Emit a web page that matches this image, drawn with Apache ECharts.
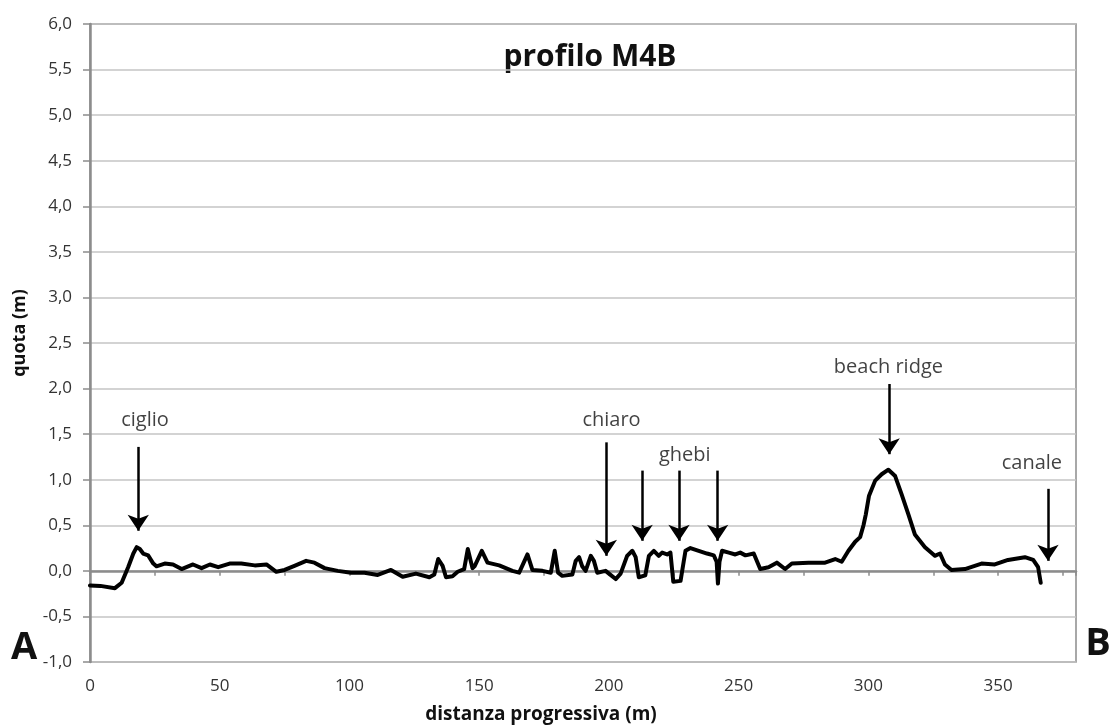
<!DOCTYPE html>
<html>
<head>
<meta charset="utf-8">
<script src="https://cdn.jsdelivr.net/npm/echarts@6/dist/echarts.min.js"></script>
<style>html,body{margin:0;padding:0;background:#fff;}#c{width:1110px;height:726px;}</style>
</head>
<body>
<div id="c"></div>
<script>
// Profile: distance (m) and elevation (m)
var distanza = [0,4,9.6,12.2,14.7,16.7,18,19.2,20.5,22.4,24.4,25.6,28.8,32,35.3,39.7,43,46.2,49.4,53.8,58.3,63.5,68,71.8,75,78.8,83.3,86.5,90.4,95.5,100.6,105.8,110.9,116,120.5,125.6,130.8,132.7,134.2,135.9,137.2,139.7,141.7,144.2,145.6,147.4,148.2,151,153.2,157.7,162.8,165.4,168.6,170.5,174.4,177.6,179.1,180.4,182,185.9,187.2,188.5,189.7,191,193,194.2,195.5,198.7,200,202.6,204.5,207,209,210.3,211.5,214,215.4,217.3,219.2,220.5,222.4,223.7,224.8,227.6,228.8,229.5,231.4,234.6,237.8,240.4,241.5,242,242.6,243.6,246.2,248.7,250.6,252.6,255.8,258.3,261.5,264.7,267.9,270.5,276.9,283.3,287.2,289.7,292.3,294.9,296.8,298.1,299,300.2,302.6,305.1,307.7,310.3,312.8,315.4,317.9,321.8,325.6,327.6,329.5,332,337.2,343.6,348.7,353.8,360.3,363.5,365.4,366.4];
var quota = [-0.16,-0.165,-0.19,-0.13,0.04,0.19,0.26,0.24,0.19,0.17,0.08,0.05,0.08,0.07,0.02,0.07,0.03,0.07,0.04,0.08,0.08,0.06,0.07,-0.01,0.01,0.055,0.11,0.09,0.03,0.0,-0.02,-0.02,-0.045,0.01,-0.065,-0.03,-0.07,-0.04,0.13,0.055,-0.07,-0.06,-0.01,0.02,0.24,0.03,0.05,0.22,0.09,0.06,0.0,-0.02,0.18,0.01,0.0,-0.02,0.22,-0.02,-0.055,-0.04,0.11,0.15,0.05,0.0,0.165,0.11,-0.02,0.0,-0.03,-0.09,-0.03,0.165,0.22,0.15,-0.07,-0.05,0.165,0.22,0.165,0.2,0.18,0.2,-0.12,-0.11,0.1,0.22,0.25,0.22,0.19,0.17,0.1,-0.14,0.1,0.22,0.2,0.18,0.2,0.17,0.19,0.02,0.04,0.09,0.02,0.08,0.09,0.09,0.13,0.1,0.22,0.32,0.37,0.5,0.62,0.82,0.99,1.06,1.11,1.04,0.84,0.62,0.4,0.26,0.165,0.19,0.07,0.01,0.02,0.08,0.07,0.12,0.15,0.12,0.04,-0.13];

// Annotation texts and their anchor positions (data units)
var annoLabels = ['ciglio','chiaro','ghebi','beach ridge','canale'];
var annoX = [21.2, 201, 229.2, 307.7, 363];
var annoY = [1.65, 1.65, 1.27, 2.23, 1.18];

// Arrows (data units): x position, top of shaft, tip
var arrowX   = [18.6, 199, 212.8, 227, 241.9, 308, 369.2];
var arrowTop = [1.36, 1.41, 1.1, 1.1, 1.1, 2.05, 0.9];
var arrowTip = [0.44, 0.165, 0.33, 0.33, 0.33, 1.28, 0.11];

var xTickLabels = [0,50,100,150,200,250,300,350];

var FONT = '"Open Sans", sans-serif';
var chart = echarts.init(document.getElementById('c'), null, {renderer:'canvas'});

var profile = distanza.map(function(d,i){return [d, quota[i]];});
var annoData = annoLabels.map(function(t,i){return {name:t, value:[annoX[i], annoY[i]]};});
var arrowData = arrowX.map(function(x,i){return [{coord:[x, arrowTop[i]]},{coord:[x, arrowTip[i]]}];});

chart.setOption({
  animation:false,
  backgroundColor:'#ffffff',
  grid:{left:90, right:34, top:24, bottom:64, show:true, borderColor:'#8c8c8c', borderWidth:1.5, backgroundColor:'transparent'},
  graphic:[
    {type:'text', x:590, y:57, style:{text:'profilo M4B', font:'bold 30px '+FONT, fill:'#111', textAlign:'center', textVerticalAlign:'middle'}},
    {type:'text', x:24, y:648, style:{text:'A', font:'bold 38px '+FONT, fill:'#111', textAlign:'center', textVerticalAlign:'middle'}},
    {type:'text', x:1098, y:644, style:{text:'B', font:'bold 38px '+FONT, fill:'#111', textAlign:'center', textVerticalAlign:'middle'}},
    {type:'text', x:541, y:715, style:{text:'distanza progressiva (m)', font:'bold 19px '+FONT, fill:'#111', textAlign:'center', textVerticalAlign:'middle'}},
    {type:'text', x:20, y:333, rotation:Math.PI/2, style:{text:'quota (m)', font:'bold 18px '+FONT, fill:'#111', textAlign:'center', textVerticalAlign:'middle'}}
  ],
  xAxis:{
    type:'value', min:0, max:380, interval:25,
    axisLine:{show:true, lineStyle:{color:'#8c8c8c', width:2.5}},
    axisTick:{show:true, length:5, lineStyle:{color:'#8c8c8c', width:1.5}},
    splitLine:{show:false},
    axisLabel:{fontFamily:FONT, fontSize:17, color:'#333', margin:16,
      formatter:function(v){return xTickLabels.indexOf(v) >= 0 ? String(v) : '';}}
  },
  yAxis:{
    type:'value', min:-1, max:6, interval:0.5,
    axisLine:{show:true, lineStyle:{color:'#8c8c8c', width:2.5}},
    axisTick:{show:true, length:7, lineStyle:{color:'#8c8c8c', width:1.5}},
    splitLine:{show:true, lineStyle:{color:'#c4c4c4', width:1.5}},
    axisLabel:{fontFamily:FONT, fontSize:17, color:'#333', margin:18,
      formatter:function(v){return v.toFixed(1).replace('.', ',');}}
  },
  series:[
    {
      type:'line', data:profile, symbol:'none', smooth:false,
      lineStyle:{color:'#000', width:4, join:'round', cap:'round'},
      markLine:{
        silent:true, symbol:['none','arrow'], symbolSize:16,
        lineStyle:{color:'#000', width:2.5, type:'solid'},
        label:{show:false},
        data:arrowData
      },
      z:3
    },
    {
      type:'scatter', data:annoData, symbolSize:0, silent:true,
      label:{show:true, position:'inside', formatter:function(p){return p.name;},
        fontFamily:FONT, fontSize:20, color:'#111'},
      z:4
    }
  ]
});
</script>
</body>
</html>
